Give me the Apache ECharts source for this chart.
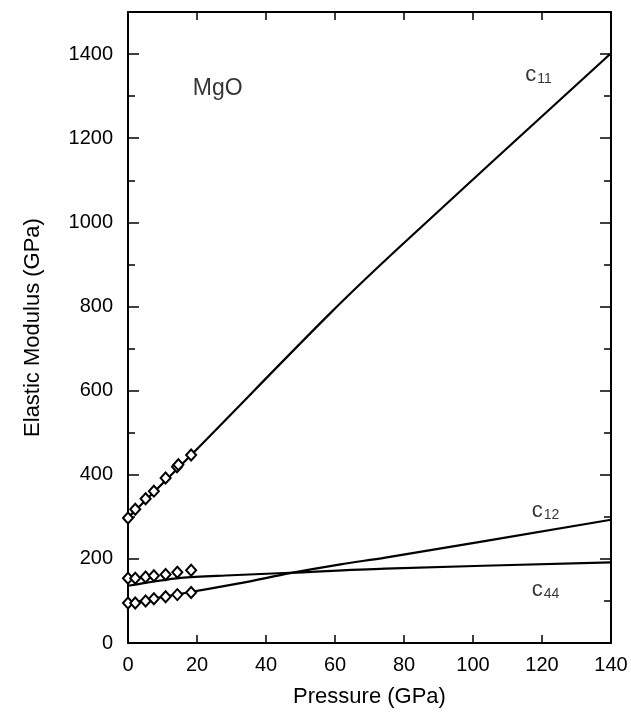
<!DOCTYPE html>
<html>
<head>
<meta charset="utf-8">
<script src="https://cdn.jsdelivr.net/npm/echarts@6/dist/echarts.min.js"></script>
<style>
html,body{margin:0;padding:0;background:#fff;}
#chart{width:631px;height:713px;}
</style>
</head>
<body>
<div id="chart"></div>
<script>
// Experimental points (pressure GPa, modulus GPa)
var c11Pts = [[0,297],[2.1,318],[5.1,343],[7.5,361],[10.9,392],[14.2,419],[14.6,424],[18.3,447]];
var c44Pts = [[0,154],[2.1,154],[5.1,157],[7.5,160],[10.9,163],[14.3,168],[18.3,173]];
var c12Pts = [[0,95],[2.1,95],[5.1,100],[7.5,105],[10.9,110],[14.3,115],[18.3,120]];
// Calculated curves
var c11Line = [[0,298],[18.3,447],[58.5,783],[78.8,942],[140,1402]];
var c12Line = [[0,95],[15.3,117],[33,143],[47,166],[61.6,187],[74.6,203],[140,293]];
var c44Line = [[0,136],[15.3,155],[30,161],[47,167],[74.6,177],[140,191.5]];
// Annotation text
var curveNames = [{name:'11', pos:[119,1352]}, {name:'12', pos:[121,316]}, {name:'44', pos:[121,129]}];
var sampleName = 'MgO';
var samplePos = [26,1317];

var chart = echarts.init(document.getElementById('chart'), null, {renderer:'canvas'});
var black = '#000';
var font = '"Liberation Sans", Arial, Helvetica, sans-serif';
function yAx(pos, interval, len, showLabel, showLine){
  return {
    type:'value', min:0, max:1500, interval:interval, position:pos,
    axisLine:{show:showLine, lineStyle:{color:black, width:2}},
    axisTick:{show:true, inside:true, length:len, lineStyle:{color:black, width:1.5}},
    axisLabel:{show:showLabel, color:black, fontSize:20, fontFamily:font, margin:15,
      formatter:function(v){ return (v % 200 === 0 && v <= 1400) ? String(v) : ''; }},
    splitLine:{show:false}
  };
}
function xAx(pos, showLabel){
  return {
    type:'value', min:0, max:140, interval:20, position:pos,
    axisLine:{show:true, onZero:false, lineStyle:{color:black, width:2}},
    axisTick:{show:true, inside:true, length:8, lineStyle:{color:black, width:1.5}},
    axisLabel:{show:showLabel, color:black, fontSize:20, fontFamily:font, margin:12},
    splitLine:{show:false},
    name: showLabel ? 'Pressure (GPa)' : '',
    nameLocation:'middle', nameGap:43,
    nameTextStyle:{color:black, fontSize:22, fontFamily:font}
  };
}
var ya0 = yAx('left',100,7,true,true);
ya0.name = 'Elastic Modulus (GPa)';
ya0.nameLocation = 'middle';
ya0.nameGap = 84;
ya0.nameTextStyle = {color:black, fontSize:22, fontFamily:font};

function ptsSeries(d){
  return {type:'line', data:d, xAxisIndex:0, yAxisIndex:0, lineStyle:{opacity:0}, symbol:'diamond', symbolSize:[10,11],
    itemStyle:{color:'#fff', borderColor:black, borderWidth:2}, z:5, silent:true};
}
function lineSeries(d){
  return {type:'line', data:d, xAxisIndex:0, yAxisIndex:0, smooth:0.3, symbol:'none', lineStyle:{color:black, width:2.2}, z:3, silent:true};
}

var option = {
  animation:false,
  backgroundColor:'#fff',
  grid:{left:128, right:20, top:12, bottom:68},
  xAxis:[xAx('bottom',true), xAx('top',false)],
  yAxis:[ya0, yAx('left',200,11,false,false), yAx('right',100,7,false,true), yAx('right',200,11,false,false)],
  series:[
    lineSeries(c11Line), lineSeries(c12Line), lineSeries(c44Line),
    ptsSeries(c11Pts), ptsSeries(c44Pts), ptsSeries(c12Pts),
    {type:'scatter', xAxisIndex:0, yAxisIndex:0, symbolSize:0, silent:true,
      data: curveNames.map(function(c){ return {value:c.pos, sub:c.name}; }),
      label:{show:true, position:'inside',
        formatter:function(p){ return '{big|c}{small|' + p.data.sub + '}'; },
        rich:{big:{fontSize:22, fontFamily:font, color:black, verticalAlign:'bottom', lineHeight:24},
              small:{fontSize:14, fontFamily:font, color:black, verticalAlign:'bottom', lineHeight:24, padding:[8,0,0,1]}}}},
    {type:'scatter', xAxisIndex:0, yAxisIndex:0, symbolSize:0, silent:true,
      data:[{value:samplePos}],
      label:{show:true, position:'inside', formatter:sampleName, fontSize:23, fontFamily:font, color:black}}
  ]
};
chart.setOption(option);
</script>
</body>
</html>
